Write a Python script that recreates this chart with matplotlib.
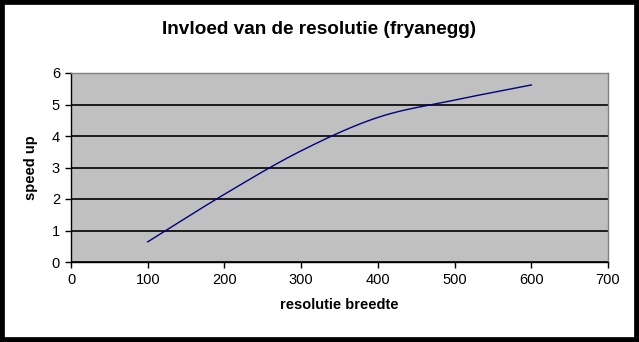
import numpy as np
import matplotlib
matplotlib.use("Agg")
import matplotlib.pyplot as plt
from matplotlib.patches import Rectangle

resolutie = [100, 200, 300, 400, 500, 600]
speedup = [0.64, 2.15, 3.53, 4.59, 5.14, 5.62]
x_ticks = [0, 100, 200, 300, 400, 500, 600, 700]
y_ticks = [0, 1, 2, 3, 4, 5, 6]

def smooth(xs, ys, n=30):
    xs = np.asarray(xs, float); ys = np.asarray(ys, float)
    P = np.column_stack([xs, ys])
    P = np.vstack([2 * P[0] - P[1], P, 2 * P[-1] - P[-2]])
    out = []
    t = np.linspace(0, 1, n)[:, None]
    for i in range(1, len(P) - 2):
        p0, p1, p2, p3 = P[i - 1], P[i], P[i + 1], P[i + 2]
        seg = 0.5 * ((2 * p1) + (-p0 + p2) * t + (2 * p0 - 5 * p1 + 4 * p2 - p3) * t ** 2
                     + (-p0 + 3 * p1 - 3 * p2 + p3) * t ** 3)
        out.append(seg if i == 1 else seg[1:])
    S = np.vstack(out)
    return S[:, 0], S[:, 1]

plt.rcParams['font.family'] = ['Liberation Sans', 'DejaVu Sans']
fig = plt.figure(figsize=(6.39, 3.42), dpi=100)
fig.patch.set_facecolor('white')
fig.patches.append(Rectangle((0, 0), 1, 1, transform=fig.transFigure, fill=False,
                             edgecolor='black', linewidth=7, zorder=10))

ax = fig.add_axes([71 / 639, 80 / 342, 537 / 639, 189 / 342])
ax.set_facecolor('#c0c0c0')
sx, sy = smooth(resolutie, speedup)
ax.plot(sx, sy, color='#000080', linewidth=1.0, zorder=3)

ax.set_xlim(0, 700)
ax.set_ylim(0, 6)
ax.set_xticks(x_ticks)
ax.set_yticks(y_ticks)
ax.yaxis.grid(True, color='black', linewidth=1.2)
ax.set_axisbelow(True)
ax.tick_params(direction='out', length=4, width=1, labelsize=10.5, colors='black', pad=4)
for s in ['top', 'right']:
    ax.spines[s].set_color('#808080')
    ax.spines[s].set_linewidth(1)
for s in ['left', 'bottom']:
    ax.spines[s].set_color('black')
    ax.spines[s].set_linewidth(1)

ax.set_xlabel('resolutie breedte', fontsize=10.5, fontweight='bold', labelpad=8)
ax.set_ylabel('speed up', fontsize=10.5, fontweight='bold', labelpad=10)
fig.text(0.5, 1 - 29 / 342, 'Invloed van de resolutie (fryanegg)', ha='center', va='center',
         fontsize=13.7, fontweight='bold')

fig.savefig('out.png', dpi=100)
